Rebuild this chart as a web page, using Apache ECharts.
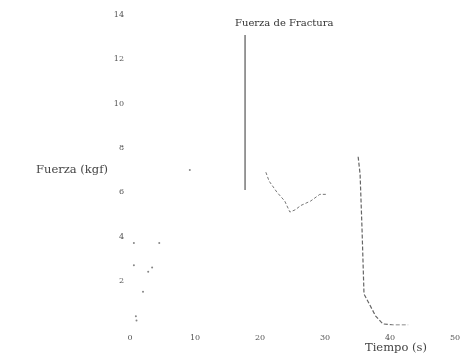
<!DOCTYPE html>
<html><head><meta charset="utf-8">
<script src="https://cdn.jsdelivr.net/npm/echarts@6/dist/echarts.min.js"></script>
<style>html,body{margin:0;padding:0;background:#fff}#c{width:467px;height:361px}</style>
</head><body><div id="c"></div>
<script>
// Tick labels
const xTicks = [0, 10, 20, 30, 40, 50];
const yTicks = [0, 2, 4, 6, 8, 10, 12, 14];
// Fracture peak segment: [time s, force kgf]
const peakTime = [17.7, 17.7];
const peakForce = [13.1, 6.1];
// Post-fracture curve
const postTime = [20.9, 21.4, 22.6, 23.8, 24.6, 25.4, 26.3, 27.8, 29.2, 30.3];
const postForce = [6.9, 6.5, 6.0, 5.6, 5.1, 5.2, 5.4, 5.6, 5.9, 5.9];
// Final drop
const dropTime = [35.1, 35.4, 35.7, 36.0, 36.9, 37.8, 38.9, 40.5, 42.8];
const dropForce = [7.6, 6.8, 4.3, 1.4, 0.9, 0.4, 0.05, 0.0, 0.0];
// Faint early readings
const earlyTime = [0.6, 0.6, 0.9, 1.0, 2.0, 2.8, 3.4, 4.5, 9.2];
const earlyForce = [3.7, 2.7, 0.4, 0.2, 1.5, 2.4, 2.6, 3.7, 7.0];

const zip = (a, b) => a.map((v, i) => [v, b[i]]);
const chart = echarts.init(document.getElementById('c'));
const axisText = {color: '#555', fontSize: 8, fontFamily: 'DejaVu Serif'};
chart.setOption({
  animation: false,
  grid: {left: 130, right: 12, top: 15, bottom: 36},
  xAxis: {
    type: 'value', min: xTicks[0], max: xTicks[xTicks.length - 1], interval: 10,
    axisLine: {show: false}, axisTick: {show: false}, splitLine: {show: false},
    axisLabel: Object.assign({margin: 9}, axisText)
  },
  yAxis: {
    type: 'value', min: yTicks[0], max: yTicks[yTicks.length - 1], interval: 2,
    axisLine: {show: false}, axisTick: {show: false}, splitLine: {show: false},
    axisLabel: Object.assign({margin: 6, showMinLabel: false}, axisText),
    name: 'Fuerza (kgf)', nameLocation: 'middle', nameRotate: 0, nameGap: 20,
    nameTextStyle: {color: '#444', fontSize: 11.5, fontFamily: 'DejaVu Serif', align: 'right', padding: [10, 0, 0, 0]}
  },
  graphic: [
    {type: 'text', left: 235, top: 18, style: {text: 'Fuerza de Fractura', fill: '#333', font: '10px "DejaVu Serif"'}},
    {type: 'text', left: 365, top: 342, style: {text: 'Tiempo (s)', fill: '#444', font: '11.5px "DejaVu Serif"'}}
  ],
  series: [
    {type: 'line', data: zip(peakTime, peakForce), showSymbol: false, lineStyle: {color: '#555', width: 1.2}},
    {type: 'line', data: zip(postTime, postForce), showSymbol: false, lineStyle: {color: '#777', width: 1, type: [3, 2]}},
    {type: 'line', data: zip(dropTime, dropForce), showSymbol: false, lineStyle: {color: '#666', width: 1.2, type: [4, 2]}},
    {type: 'scatter', data: zip(earlyTime, earlyForce), symbolSize: 2, itemStyle: {color: '#666'}}
  ]
});
</script></body></html>
